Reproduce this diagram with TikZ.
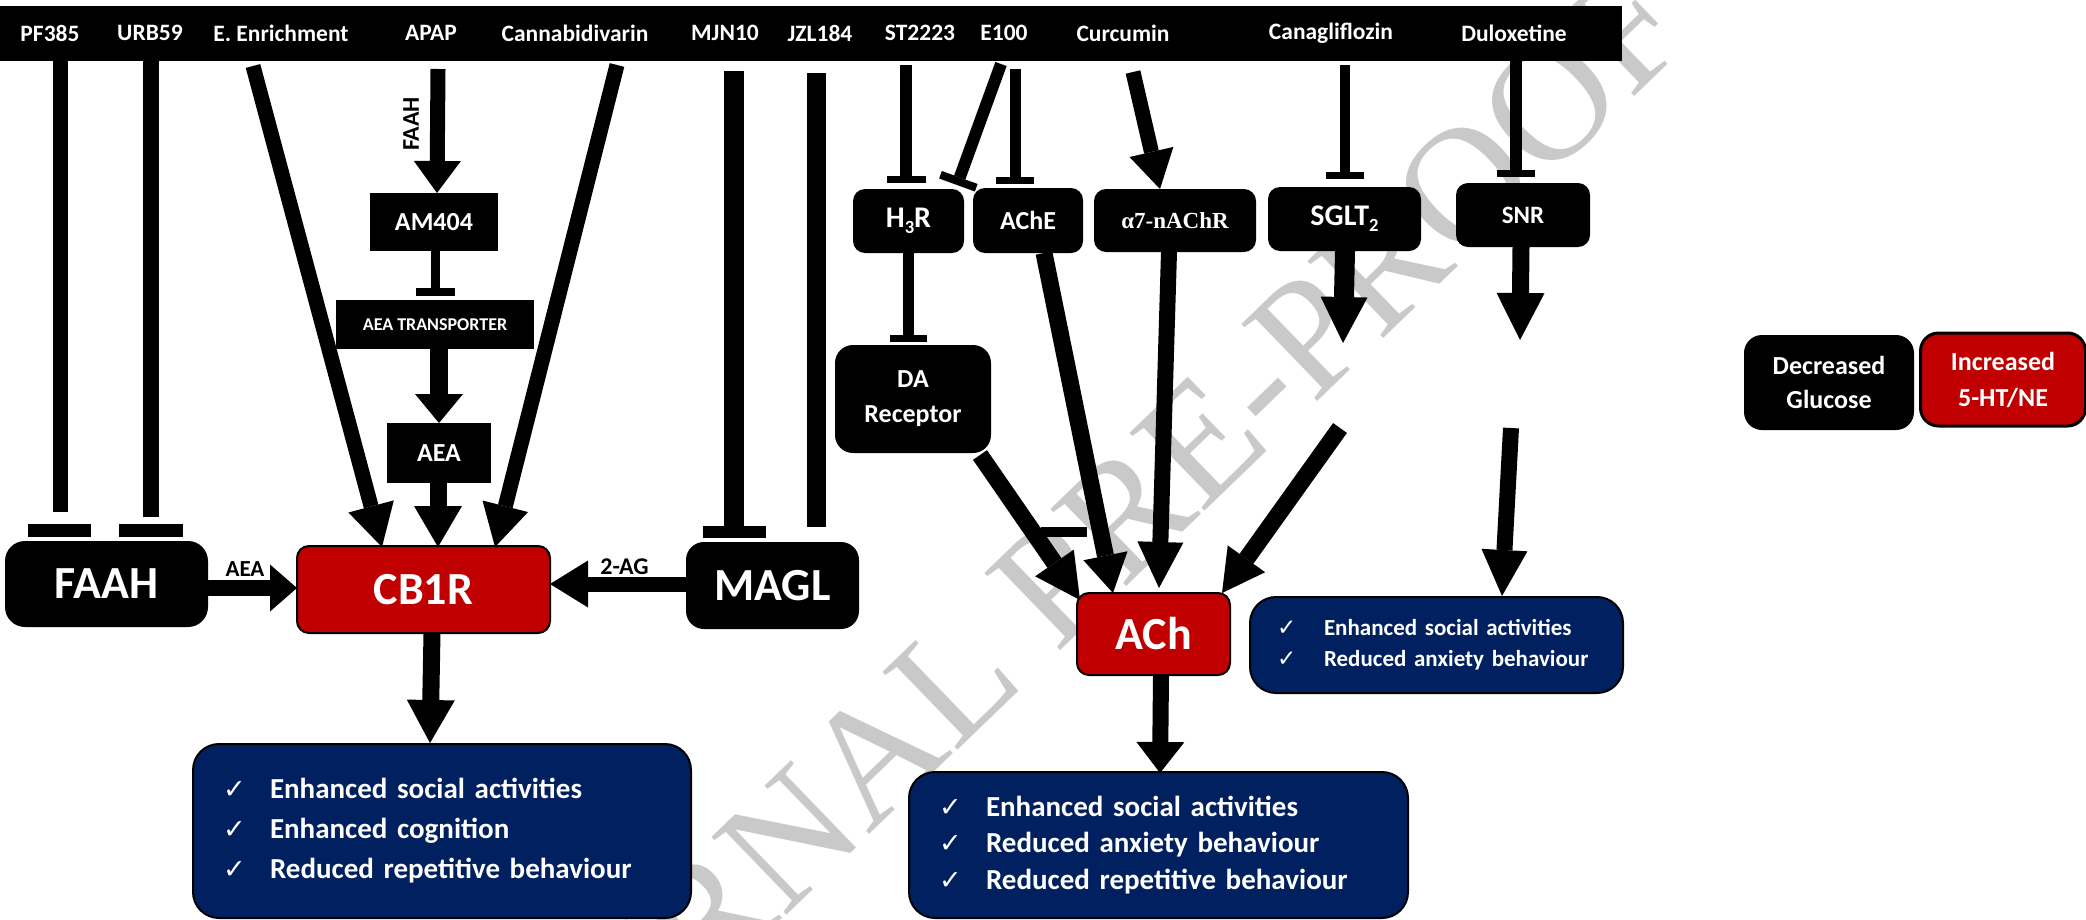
\documentclass[tikz,border=0pt]{standalone}
\usepackage{fontspec}
\setmainfont{Carlito}
\newfontfamily\timesf{Liberation Serif}
\newfontfamily\djv{DejaVu Sans}
\usetikzlibrary{arrows.meta}
\definecolor{cbred}{HTML}{C00000}
\definecolor{navyb}{HTML}{002060}
\newcommand\fs[2]{\fontsize{#1}{#2}\selectfont}
\newcommand\sbx[1]{\raisebox{-0.2em}{\scalebox{0.62}{#1}}}
\newcommand\chk{\makebox[47pt][l]{\djv\fs{27}{27}\mdseries ✓}}
\newcommand\chks{\makebox[47pt][l]{\djv\fs{23}{23}\mdseries ✓}}
\begin{document}
\begin{tikzpicture}[x=1pt,y=-1pt,
 blk/.style={fill=black,text=white,rounded corners=12pt,inner sep=0pt,font=\bfseries},
 sqb/.style={fill=black,text=white,inner sep=0pt,font=\bfseries},
 redb/.style={fill=cbred,draw=black,line width=2pt,text=white,rounded corners=12pt,inner sep=0pt,font=\bfseries\fs{46}{50}},
 effb/.style={fill=navyb,draw=black,line width=2pt,text=white,rounded corners=26pt,align=left,inner ysep=0pt},
 lbl/.style={text=white,font=\bfseries\fs{23.5}{28},inner sep=0pt},
 albl/.style={text=black,font=\bfseries\fs{23}{26},inner sep=0pt},
 fat/.style n args={3}{line width=#1pt,-{Triangle[width=#2pt,length=#3pt,line width=0pt]}},
 tee/.style n args={3}{line width=#1pt,-{Rectangle[width=#2pt,length=#3pt,line width=0pt]}},
 stem/.style={line width=#1pt},
]
\useasboundingbox (0,0) rectangle (2086,919);
\fill[white] (0,0) rectangle (2086,919);
\clip (0,0) rectangle (2086,919);

% watermark
\node[rotate=44,text=black!21,font=\timesf\fs{165}{165},inner sep=0pt] (wm) at (1054,582) {JOURNAL PRE-PROOF};

% top bar and labels
\node[sqb,minimum width=1622pt,minimum height=55pt,anchor=north west] (bar) at (0,6) {};
\node[lbl] (pf) at (50,33) {PF385};
\node[lbl] (urb) at (150,33) {URB59};
\node[lbl] (een) at (281,33) {E. Enrichment};
\node[lbl] (apap) at (431,33) {APAP};
\node[lbl] (cbdv) at (575,33) {Cannabidivarin};
\node[lbl] (mjn) at (725,33) {MJN10};
\node[lbl] (jzl) at (820,33) {JZL184};
\node[lbl] (st) at (920,33) {ST2223};
\node[lbl] (e100) at (1004,33) {E100};
\node[lbl] (cur) at (1123,33) {Curcumin};
\node[lbl] (cana) at (1331,33) {Canagliflozin};
\node[lbl] (dulo) at (1514,33) {Duloxetine};

% left part nodes
\node[blk,rounded corners=20pt,minimum width=203pt,minimum height=86pt,font=\bfseries\fs{46}{50}] (faah) at (106.5,584) {FAAH};
\node[redb,minimum width=253pt,minimum height=87pt] (cb1r) at (423.5,589.5) {CB1R};
\node[blk,rounded corners=18pt,minimum width=173pt,minimum height=87pt,font=\bfseries\fs{46}{50}] (magl) at (772.5,585.5) {MAGL};
\node[sqb,minimum width=128pt,minimum height=58pt,font=\bfseries\fs{26}{30}] (am404) at (434,222) {AM404};
\node[sqb,minimum width=198pt,minimum height=49pt,font=\bfseries\fs{18}{22}] (aeat) at (435,324.5) {AEA TRANSPORTER};
\node[sqb,minimum width=104pt,minimum height=60pt,font=\bfseries\fs{26}{30}] (aea) at (439,453) {AEA};
\node[effb,minimum height=174pt,text width=438pt,inner xsep=30pt,font=\bfseries\fs{29}{40}] (eff1) at (442,831)
 {\chk Enhanced social activities\\ \chk Enhanced cognition\\ \chk Reduced repetitive behaviour};

% right part nodes
\node[blk,minimum width=111pt,minimum height=64pt,font=\bfseries\fs{30}{34}] (h3r) at (908.5,221) {H\sbx{3}R};
\node[blk,minimum width=110pt,minimum height=65pt,font=\bfseries\fs{26}{30}] (ache) at (1028,220.5) {AChE};
\node[blk,minimum width=162pt,minimum height=63pt,font=\timesf\bfseries\fs{23}{26}] (a7) at (1175,220.5) {α7-nAChR};
\node[blk,minimum width=153pt,minimum height=64pt,font=\bfseries\fs{30}{34}] (sglt) at (1344.5,219) {SGLT\sbx{2}};
\node[blk,minimum width=134pt,minimum height=64pt,font=\bfseries\fs{25}{28}] (snr) at (1523,215) {SNR};
\node[blk,rounded corners=18pt,minimum width=156pt,minimum height=108pt,align=center,font=\bfseries\fs{26}{35}] (da) at (913,399) {DA\\Receptor};
\node[redb,minimum width=153pt,minimum height=82pt] (ach) at (1153.5,634) {ACh};
\node[effb,minimum height=96pt,text width=319pt,inner xsep=27pt,font=\bfseries\fs{23}{31}] (eff2) at (1436.5,645)
 {\chks Enhanced social activities\\ \chks Reduced anxiety behaviour};
\node[effb,minimum height=146pt,text width=439pt,inner xsep=30pt,font=\bfseries\fs{29}{36.5}] (eff3) at (1158.5,845)
 {\chk Enhanced social activities\\ \chk Reduced anxiety behaviour\\ \chk Reduced repetitive behaviour};

% legend
\node[blk,rounded corners=18pt,minimum width=170pt,minimum height=95pt,align=center,font=\bfseries\fs{26}{34}] (legdec) at (1829,382.5) {Decreased\\Glucose};
\node[redb,line width=3pt,rounded corners=18pt,minimum width=165pt,minimum height=93pt,align=center,font=\bfseries\fs{26}{36}] (leginc) at (2003,379.5) {Increased\\5-HT/NE};

% connector coordinates
\coordinate (pfS) at (60,61);   \coordinate (pfE) at (60,512);
\coordinate (urS) at (151,61);  \coordinate (urE) at (151,517);
\coordinate (mjS) at (734,71);  \coordinate (mjE) at (734,538);
\coordinate (jzS) at (816,73);  \coordinate (jzE) at (816,527);
\coordinate (stS) at (906,65);  \coordinate (stE) at (906,183);
\coordinate (e1S) at (1001,64); \coordinate (e1E) at (957,185);
\coordinate (e2S) at (1015,69); \coordinate (e2E) at (1015,184);
\coordinate (hdS) at (908,253); \coordinate (hdE) at (908,342);
\coordinate (caS) at (1345,65); \coordinate (caE) at (1345,179);
\coordinate (duS) at (1516,61); \coordinate (duE) at (1516,177);
\coordinate (amS) at (435,251); \coordinate (amE) at (435,296);

% inhibition connectors
\draw[stem=15] (pfS) -- (pfE);
\fill (28,524) rectangle (91,537);
\draw[stem=16] (urS) -- (urE);
\fill (119,524) rectangle (183,537);
\draw[tee={20}{63}{12}] (mjS) -- (mjE);
\draw[stem=19] (jzS) -- (jzE);
\draw[tee={12}{39}{7}] (stS) -- (stE);
\draw[tee={12}{38}{8}] (e1S) -- (e1E);
\draw[tee={11}{38}{7}] (e2S) -- (e2E);
\draw[tee={11}{37}{7}] (hdS) -- (hdE);
\draw[tee={10}{38}{7}] (caS) -- (caE);
\draw[tee={12}{38}{7}] (duS) -- (duE);
\draw[tee={9}{39}{8}] (amS) -- (amE);

% activation arrows (left)
\draw[fat={15}{47}{42}] (253,66) -- (382,547);
\draw[fat={15}{47}{32}] (438,69) -- (437,193);
\draw[fat={18}{48}{29}] (439,349) -- (439,423);
\draw[fat={17}{48}{41}] (438,483) -- (438,547);
\draw[fat={15}{47}{42}] (617,65) -- (495,547);
\draw[fat={16}{47}{27}] (208,588) -- (297,588);
\draw[fat={15}{47}{38}] (686,584) -- (550,584);
\draw[fat={17}{48}{43}] (432,633) -- (430,743);

% activation arrows (right)
\draw[fat={15}{45}{38}] (1133,72) -- (1160,189);
\draw[fat={20}{47}{46}] (1345,251) -- (1343,343);
\draw[fat={17}{48}{47}] (1521,247) -- (1520,340);
\draw[fat={17}{46}{42}] (1340,428) -- (1222,593);
\draw[fat={16}{46}{46}] (1511,428) -- (1502,596);
\draw[fat={17}{47}{45}] (980,455) -- (1080,600);
\draw[fat={17}{45}{38}] (1044,253) -- (1113,593);
\draw[fat={16}{46}{46}] (1169,252) -- (1159,588);
\draw[fat={16}{48}{31}] (1161,676) -- (1160,773);
\fill (1041,527) rectangle (1087,537);

% arrow labels
\node[albl,rotate=90,font=\bfseries\fs{24}{26}] (faahlbl) at (411,124) {FAAH};
\node[albl] (aealbl) at (245,569.5) {AEA};
\node[albl,font=\bfseries\fs{24}{26}] (aglbl) at (624.5,566.5) {2-AG};
\end{tikzpicture}
\end{document}
